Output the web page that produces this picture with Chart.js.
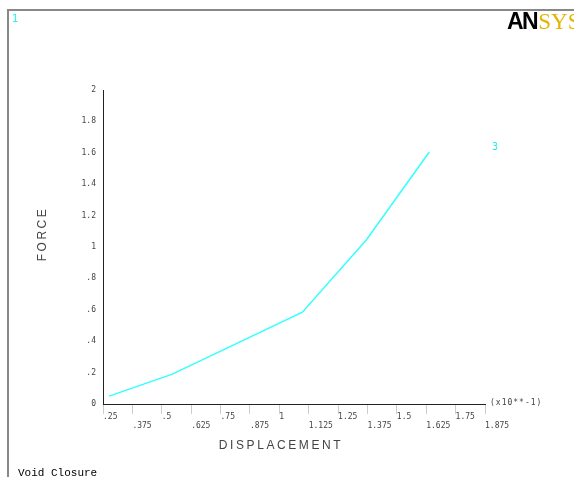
<!DOCTYPE html>
<html>
<head>
<meta charset="utf-8">
<script src="https://cdn.jsdelivr.net/npm/chart.js@4"></script>
<style>
    body { margin: 0; background: #fff; }
    #wrap { position: relative; width: 574px; height: 477px; overflow: hidden; }
    #frame {
        position: absolute; left: 7px; top: 9px; width: 580px; height: 480px;
        border-top: 2px solid #888; border-left: 2px solid #888;
    }
    canvas { position: absolute; left: 0; top: 0; }
    .txt { position: absolute; white-space: nowrap; }
    .center { transform: translate(-50%, -50%); }
    #num1, #num3 { font: 10px "DejaVu Sans Mono", monospace; color: #2ee; }
    #logo { left: 507px; top: 9px; font-size: 23px; line-height: 24px; }
    #logo .an { font-family: "Liberation Sans", sans-serif; font-weight: bold; letter-spacing: -1.5px; color: #000; }
    #logo .sys { font-family: "Liberation Serif", serif; color: #e6b400; margin-left: 1px; }
    #ytitle {
        left: 42px; top: 234px; font: 12px "Liberation Sans", sans-serif; letter-spacing: 2.5px; color: #444;
        transform: translate(-50%, -50%) rotate(-90deg);
    }
    #xtitle { left: 281px; top: 445px; font: 12px "Liberation Sans", sans-serif; letter-spacing: 2.6px; color: #444; }
    #scale { left: 490px; top: 398px; font: 8px "DejaVu Sans Mono", monospace; color: #444; letter-spacing: 1px; }
    #footer { left: 18px; top: 467px; font: 11px "Liberation Mono", monospace; color: #000; }
</style>
</head>
<body>
<div id="wrap">
    <div id="frame"></div>
    <canvas id="chart" width="574" height="477"></canvas>
    <div class="txt" id="num1" style="left:12px;top:13px;">1</div>
    <div class="txt" id="num3" style="left:492px;top:141px;">3</div>
    <div class="txt" id="logo"><span class="an">AN</span><span class="sys">SYS</span></div>
    <div class="txt" id="ytitle">FORCE</div>
    <div class="txt center" id="xtitle">DISPLACEMENT</div>
    <div class="txt" id="scale">(x10**-1)</div>
    <div class="txt" id="footer">Void Closure</div>
</div>
<script>
// valori (spostamento in unità x10**-1)
const displacement = [0.276, 0.545, 1.098, 1.37, 1.638];
const force = [0.05, 0.19, 0.585, 1.045, 1.605];

const xMin = 0.25, xMax = 1.875, xStep = 0.125;
const yMin = 0, yMax = 2, yStep = 0.2;

// etichette stile ANSYS: niente zero iniziale
function fmt(v) {
    let s = String(+v.toFixed(3));
    if (s.startsWith('0.')) s = s.slice(1);
    return s;
}

const points = displacement.map((x, i) => ({ x: x, y: force[i] }));
const tickFont = { family: 'DejaVu Sans Mono', size: 8, lineHeight: 1.15 };

new Chart(document.getElementById('chart'), {
    type: 'line',
    data: {
        datasets: [{
            data: points,
            borderColor: '#33ffff',
            borderWidth: 1.5,
            pointRadius: 0,
            tension: 0,
            fill: false
        }]
    },
    options: {
        responsive: false,
        animation: false,
        layout: { padding: { top: 90, right: 89, left: 0, bottom: 0 } },
        plugins: { legend: { display: false }, tooltip: { enabled: false } },
        scales: {
            x: {
                type: 'linear',
                min: xMin,
                max: xMax,
                afterFit: s => { s.height = 73; },
                border: { color: '#222', width: 1 },
                grid: { drawOnChartArea: false, tickLength: 10, color: '#ccc' },
                ticks: {
                    stepSize: xStep,
                    autoSkip: false,
                    maxRotation: 0,
                    align: 'start',
                    padding: -2,
                    color: '#444',
                    font: tickFont,
                    callback: (v, i) => i % 2 === 0 ? [fmt(v), ''] : ['', fmt(v)]
                }
            },
            y: {
                min: yMin,
                max: yMax,
                afterFit: s => { s.width = 103; },
                border: { color: '#222', width: 1 },
                grid: { drawOnChartArea: false, drawTicks: false, tickLength: 0 },
                ticks: {
                    stepSize: yStep,
                    padding: 7,
                    color: '#444',
                    font: tickFont,
                    callback: v => fmt(v)
                }
            }
        }
    }
});
</script>
</body>
</html>
